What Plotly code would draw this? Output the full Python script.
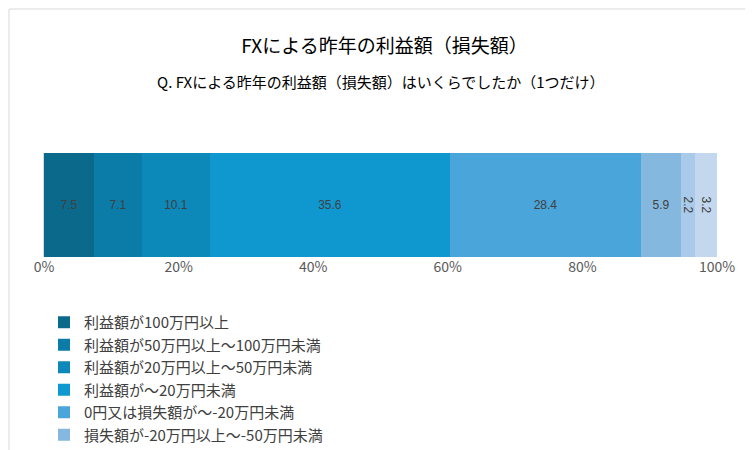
import plotly.graph_objects as go

categories = ["利益額が100万円以上", "利益額が50万円以上～100万円未満", "利益額が20万円以上～50万円未満",
              "利益額が～20万円未満", "0円又は損失額が～-20万円未満", "損失額が-20万円以上～-50万円未満",
              "損失額が-50万円以上～-100万円未満", "損失額が-100万円以上"]
values = [7.5, 7.1, 10.1, 35.6, 28.4, 5.9, 2.2, 3.2]
colors = ["#0b6a8c", "#0b7ca8", "#0c88b9", "#0f98cf", "#4aa5da", "#85b8df", "#a9cbe9", "#c3d8ee"]
tick_vals = [0, 20, 40, 60, 80, 100]
tick_text = ["0%", "20%", "40%", "60%", "80%", "100%"]

FONT = "Noto Sans CJK JP"
fig = go.Figure()
for c, v, col in zip(categories, values, colors):
    fig.add_trace(go.Bar(x=[v], y=[""], orientation="h", name=c, marker=dict(color=col, line=dict(width=0)),
                         text=[f"{v}"], textposition="inside", insidetextanchor="middle",
                         constraintext="none",
                         textfont=dict(color="#404040", size=12, family="Liberation Sans Narrow, Liberation Sans"),
                         hoverinfo="skip"))

W, H = 753, 450
L, R, T, B = 36, 44, 145, 201
pw, ph = W - L - R, H - T - B
fig.update_layout(
    width=W, height=H, barmode="stack", bargap=0,
    margin=dict(l=L, r=R, t=T, b=B, autoexpand=False),
    uniformtext=dict(minsize=12, mode="show"),
    paper_bgcolor="white", plot_bgcolor="white",
    font=dict(family=FONT, color="#404040"),
    title=dict(text="FXによる昨年の利益額（損失額）", x=0.5, xanchor="center", y=1 - 38 / H, yanchor="middle",
               font=dict(size=19, color="#000000", family=FONT)),
    xaxis=dict(range=[0, 100], tickvals=tick_vals, ticktext=tick_text, showgrid=True, gridcolor="#d9d9d9",
               zeroline=True, zerolinecolor="#d9d9d9", tickfont=dict(size=14, color="#595959"), ticks="",
               fixedrange=True),
    yaxis=dict(showticklabels=False, showgrid=False, range=[-0.5, 0.5]),
    showlegend=True,
    legend=dict(orientation="h", x=0.0, xanchor="left", y=-(298 - T - ph) / ph, yanchor="top",
                entrywidth=338, entrywidthmode="pixels", font=dict(size=15, color="#404040", family=FONT),
                traceorder="normal", itemwidth=30, bgcolor="rgba(0,0,0,0)"),
    annotations=[dict(text="Q. FXによる昨年の利益額（損失額）はいくらでしたか（1つだけ）", x=0.5, xref="paper",
                      y=1 + (T - 73) / ph, yref="paper", showarrow=False, xanchor="center", yanchor="middle",
                      font=dict(size=15, color="#000000", family=FONT))],
    shapes=[dict(type="rect", xref="paper", yref="paper", x0=-(L - 1) / pw, x1=1 + (R - 1) / pw,
                 y0=-(B - 1) / ph, y1=1 + (T - 1) / ph, line=dict(color="#d9d9d9", width=1))],
)
fig.write_html("out.html")
